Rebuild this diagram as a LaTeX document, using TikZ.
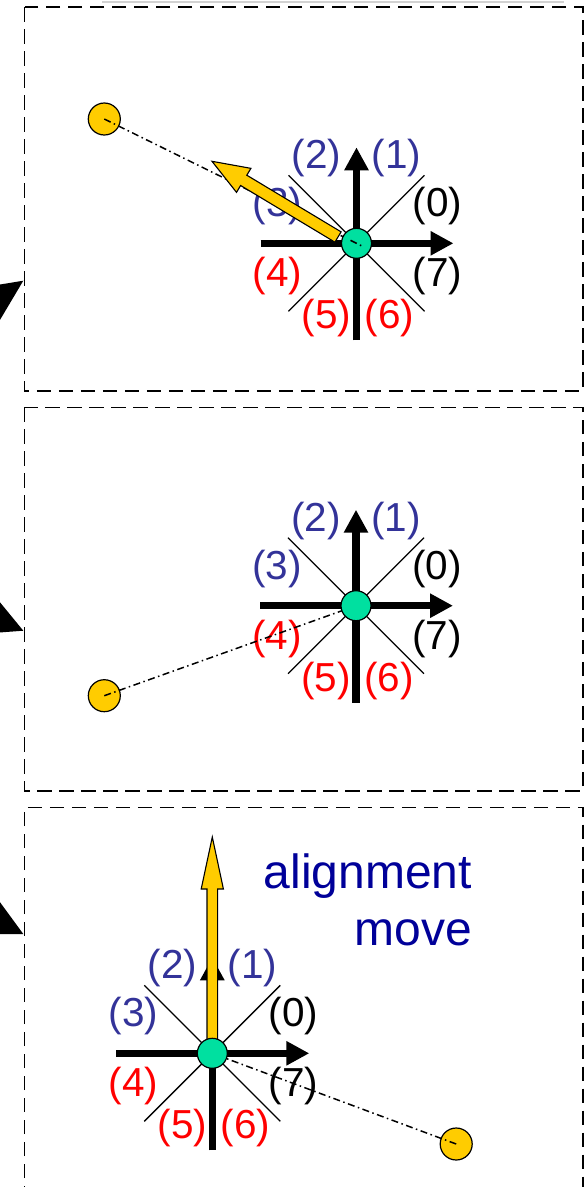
\documentclass[tikz,border=0pt]{standalone}
\usepackage{fontspec}
\setmainfont{Liberation Sans}
\usetikzlibrary{arrows.meta,calc}
\definecolor{lblblue}{RGB}{51,51,153}
\definecolor{navyblue}{RGB}{0,0,153}
\definecolor{mint}{RGB}{0,224,160}
\definecolor{gold}{RGB}{255,204,0}
\definecolor{lightgray}{RGB}{210,210,210}
\tikzset{
  panel/.style={draw=black, line width=1.6pt, dash pattern=on 14.5pt off 7.5pt},
  diagline/.style={line width=1.3pt},
  bararrow/.style={line width=7.5pt, -{Triangle[length=23pt,width=23pt]}},
  lbl/.style={font=\fontsize{40.5}{40.5}\selectfont, inner sep=0pt, anchor=center},
  robot/.style={circle, draw=black, line width=1.2pt, fill=mint, minimum size=30pt, inner sep=0pt},
  target/.style={circle, draw=black, line width=1.2pt, fill=gold, minimum size=32pt, inner sep=0pt},
  dashdot/.style={line width=1.5pt, dash pattern=on 7pt off 3.5pt on 1.5pt off 3.5pt},
  yarrow/.style={draw=black, line width=1.1pt, fill=gold, line join=miter},
  sidetip/.style={fill=black},
  bigtxt/.style={font=\fontsize{48}{48}\selectfont, text=navyblue, inner sep=0pt, anchor=base east}
}
% compass: #1 prefix, #2 center x, #3 center y
\newcommand{\drawcompass}[3]{%
  \coordinate (#1c) at (#2,#3);
  \coordinate (#1ne) at (#2+68,#3-68);
  \coordinate (#1sw) at (#2-68,#3+68);
  \coordinate (#1nw) at (#2-68,#3-68);
  \coordinate (#1se) at (#2+68,#3+68);
  \coordinate (#1w) at (#2-96,#3);
  \coordinate (#1e) at (#2+97,#3);
  \coordinate (#1s) at (#2,#3+97);
  \coordinate (#1n) at (#2,#3-96);
  \draw[diagline] (#1ne) -- (#1sw);
  \draw[diagline] (#1nw) -- (#1se);
  \draw[bararrow] (#1w) -- (#1e);
  \draw[bararrow] (#1s) -- (#1n);
  \node[lbl, text=lblblue] (#1l2) at (#2-40,#3-85) {(2)};
  \node[lbl, text=lblblue] (#1l1) at (#2+40,#3-85) {(1)};
  \node[lbl, text=lblblue] (#1l3) at (#2-79,#3-37) {(3)};
  \node[lbl, text=black] (#1l0) at (#2+81,#3-37) {(0)};
  \node[lbl, text=red] (#1l4) at (#2-79,#3+33) {(4)};
  \node[lbl, text=black] (#1l7) at (#2+81,#3+33) {(7)};
  \node[lbl, text=red] (#1l5) at (#2-30,#3+75) {(5)};
  \node[lbl, text=red] (#1l6) at (#2+33,#3+75) {(6)};
}
\begin{document}
\begin{tikzpicture}[x=1pt,y=-1pt]
\useasboundingbox (0,0) rectangle (584,1187);
\clip (0,0) rectangle (584,1187);
\fill[white] (0,0) rectangle (584,1187);
% top gray remnant
\draw[lightgray, line width=2pt] (102,1.7) -- (564,1.7);
% panels
\draw[panel] (24.6,7) rectangle (582.7,390.7);
\draw[panel] (24.6,407.3) rectangle (582.7,790.7);
\draw[panel] (24.6,1200) -- (24.6,807.3) -- (582.7,807.3) -- (582.7,1200);
% partial arrow tips on the left edge
\fill[sidetip] (23.3,280.7) -- (-6,285.5) -- (-6,330) -- cycle;
\fill[sidetip] (23.3,630.7) -- (-6,595) -- (-6,632.9) -- cycle;
\fill[sidetip] (23.3,934) -- (-6,894) -- (-6,934) -- cycle;

% ---------- panel 1 ----------
\drawcompass{a}{356.5}{243.3}
\node[target] (atgt) at (104.3,119) {};
\draw[dashdot] (atgt.center) -- (ac);
\begin{scope}[shift={(338,237)}, rotate=149]
  \draw[yarrow] (0,-6) -- (110,-6) -- (110,-14) -- (147,0) -- (110,14) -- (110,6) -- (0,6) -- cycle;
\end{scope}
\node[robot] (arob) at (ac) {};
\draw[dashdot] ($(ac)+(-6,-3)$) -- ($(ac)+(6,3)$);

% ---------- panel 2 ----------
\drawcompass{b}{356}{605.7}
\node[target] (btgt) at (104.3,695.7) {};
\draw[dashdot] (btgt.center) -- (bc);
\node[robot] (brob) at (bc) {};

% ---------- panel 3 ----------
\drawcompass{c}{212.3}{1053.3}
\node[target] (ctgt) at (456.2,1144) {};
\draw[dashdot] (ctgt.center) -- (cc);
\draw[yarrow] (207,1040) -- (207,889) -- (201.2,889) -- (212.3,837) -- (223.4,889) -- (217.6,889) -- (217.6,1040) -- cycle;
\node[robot] (crob) at (cc) {};
\node[bigtxt] (txt1) at (472,888) {alignment};
\node[bigtxt] (txt2) at (472,945) {move};
\end{tikzpicture}
\end{document}
